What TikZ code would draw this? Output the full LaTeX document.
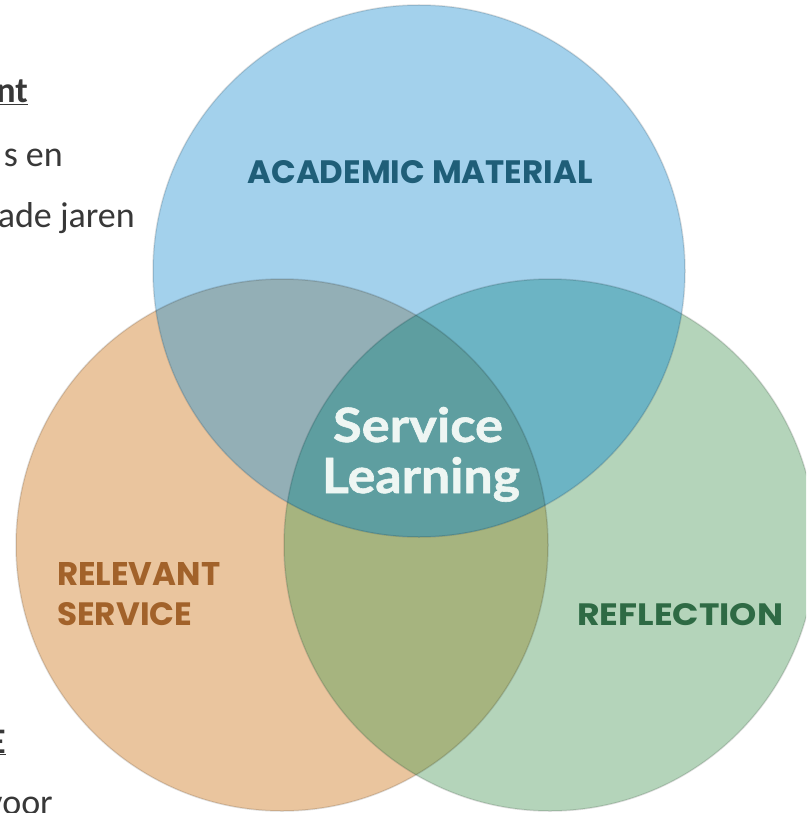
\documentclass[tikz,border=0pt]{standalone}
\usepackage{fontspec}
\setmainfont{Carlito}
\newfontfamily\labelfont{Poppins}
\newfontfamily\centerfont{Lato}[FakeBold=1.2]
\usepackage{graphicx}
\definecolor{cBl}{HTML}{A3D1EC}
\definecolor{cOr}{HTML}{EAC59E}
\definecolor{cGr}{HTML}{B4D4BA}
\definecolor{cBO}{HTML}{93AFB6}
\definecolor{cBG}{HTML}{6CB4C4}
\definecolor{cOG}{HTML}{A6B47F}
\definecolor{cAll}{HTML}{5E9EA0}
\definecolor{tAcad}{HTML}{1F5E78}
\definecolor{tRel}{HTML}{A2622A}
\definecolor{tRef}{HTML}{2E6A44}
\definecolor{tBody}{HTML}{383838}
\definecolor{tCen}{HTML}{EEF6F3}
\tikzset{
  rim/.style={draw=black, draw opacity=0.13, line width=1.5pt},
  bodytext/.style={inner sep=0pt, text=tBody, font=\fontsize{36}{42}\selectfont},
  circlabel/.style={inner sep=0pt, font=\labelfont\bfseries},
  centerlabel/.style={inner sep=0pt, text=tCen, font=\centerfont\bfseries}
}
\begin{document}
\begin{tikzpicture}[x=1pt,y=-1pt]
\useasboundingbox (0,0) rectangle (806,813);
\clip (0,0) rectangle (806,813);
\def\R{266pt}
\coordinate (cB) at (419,271);
\coordinate (cO) at (282,545);
\coordinate (cG) at (550,545);
% base circles
\fill[cOr] (cO) circle[radius=\R];
\fill[cGr] (cG) circle[radius=\R];
\fill[cBl] (cB) circle[radius=\R];
% pairwise overlaps
\begin{scope}
  \clip (cO) circle[radius=\R];
  \fill[cOG] (cG) circle[radius=\R];
  \fill[cBO] (cB) circle[radius=\R];
\end{scope}
\begin{scope}
  \clip (cB) circle[radius=\R];
  \fill[cBG] (cG) circle[radius=\R];
\end{scope}
% triple overlap
\begin{scope}
  \clip (cB) circle[radius=\R];
  \clip (cO) circle[radius=\R];
  \fill[cAll] (cG) circle[radius=\R];
\end{scope}
% rims
\path[rim] (cO) circle[radius=\R];
\path[rim] (cG) circle[radius=\R];
\path[rim] (cB) circle[radius=\R];
% circle labels
\node[circlabel, text=tAcad, anchor=base] (acad) at (420,183)
  {\resizebox{345pt}{23pt}{ACADEMIC MATERIAL}};
\node[circlabel, text=tRel, anchor=base west] (rel1) at (57,585)
  {\resizebox{163pt}{23pt}{RELEVANT}};
\node[circlabel, text=tRel, anchor=base west] (rel2) at (57,625)
  {\resizebox{135pt}{23pt}{SERVICE}};
\node[circlabel, text=tRef, anchor=base west] (refl) at (577,625)
  {\resizebox{206pt}{22pt}{REFLECTION}};
\node[centerlabel, anchor=base] (sl1) at (418,442)
  {\resizebox{170pt}{35pt}{Service}};
\node[centerlabel, anchor=base] (sl2) at (421,493)
  {\resizebox{198pt}{36pt}{Learning}};
% cropped slide text on the left
\node[bodytext, anchor=base east] (t1) at (28,103) {\bfseries\underline{nt}};
\node[bodytext, anchor=base east] (t2) at (63,167) {s en};
\node[bodytext, anchor=base east] (t3) at (135,227) {ade jaren};
\node[bodytext, anchor=base east] (t4) at (6,753) {\bfseries\underline{E}};
\node[bodytext, anchor=base east] (t5) at (53,814) {voor};
\end{tikzpicture}
\end{document}
